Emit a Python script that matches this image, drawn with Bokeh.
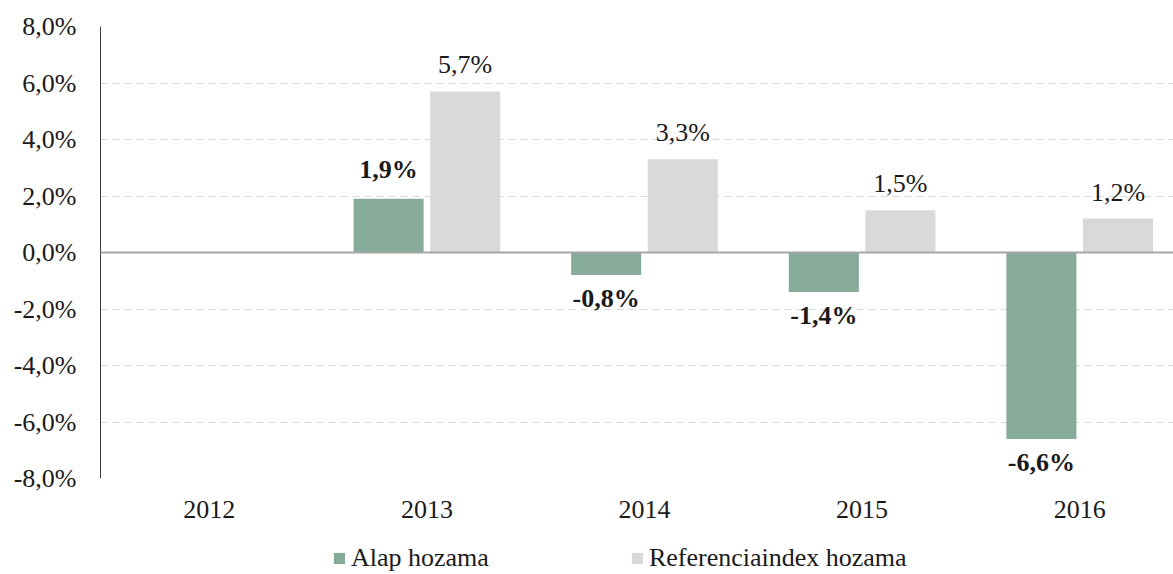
import math
from bokeh.plotting import figure
from bokeh.layouts import column
from bokeh.models import (ColumnDataSource, Range1d, FixedTicker, Span, Legend, LegendItem)
from bokeh.core.properties import value
from bokeh.embed import file_html
from bokeh.resources import INLINE

years = ["2012", "2013", "2014", "2015", "2016"]
alap = [float("nan"), 1.9, -0.8, -1.4, -6.6]
ref = [float("nan"), 5.7, 3.3, 1.5, 1.2]
y_ticks = [-8, -6, -4, -2, 0, 2, 4, 6, 8]
series_names = ["Alap hozama", "Referenciaindex hozama"]

GREEN = "#86AB99"
GRAY = "#D9D9D9"
FONT = "'Liberation Serif', 'Times New Roman', serif"
TXT = "#1a1a1a"
FS = "26px"

def fmt(v):
    return f"{v:.1f}%".replace(".", ",")

idx = list(range(len(years)))
off = 0.176
bw = 0.322

p = figure(width=1173, height=530, output_backend="svg", toolbar_location=None,
           x_range=Range1d(-0.5, -0.5 + 1073 / 217.6), y_range=Range1d(-8, 8),
           min_border_left=100, min_border_right=0, min_border_top=26, min_border_bottom=52)
p.outline_line_color = None
p.background_fill_color = "white"
p.border_fill_color = "white"

# grid
p.xgrid.grid_line_color = None
p.ygrid.ticker = FixedTicker(ticks=y_ticks)
p.ygrid.grid_line_color = "#D9D9D9"
p.ygrid.grid_line_dash = "7 5"
p.ygrid.grid_line_width = 1

# y axis
p.yaxis.ticker = FixedTicker(ticks=y_ticks)
p.yaxis.major_label_overrides = {t: fmt(t) for t in y_ticks}
p.yaxis.axis_line_color = "#404040"
p.yaxis.axis_line_width = 1
p.yaxis.major_tick_line_color = None
p.yaxis.major_tick_out = 0
p.yaxis.major_tick_in = 0
p.yaxis.minor_tick_line_color = None
p.yaxis.major_label_text_font = FONT
p.yaxis.major_label_text_font_size = FS
p.yaxis.major_label_text_color = TXT
p.yaxis.major_label_standoff = 24

# x axis
p.xaxis.ticker = FixedTicker(ticks=idx)
p.xaxis.major_label_overrides = {i: y for i, y in zip(idx, years)}
p.xaxis.axis_line_color = None
p.xaxis.major_tick_line_color = None
p.xaxis.major_tick_out = 0
p.xaxis.major_tick_in = 0
p.xaxis.minor_tick_line_color = None
p.xaxis.major_label_text_font = FONT
p.xaxis.major_label_text_font_size = FS
p.xaxis.major_label_text_color = TXT
p.xaxis.major_label_standoff = 22

# zero line
p.add_layout(Span(location=0, dimension="width", line_color="#A6A6A6", line_width=2))

xs_a = [i - off for i in idx]
xs_r = [i + off for i in idx]
data_a = dict(x=[x for x, v in zip(xs_a, alap) if not math.isnan(v)],
              top=[v for v in alap if not math.isnan(v)])
data_r = dict(x=[x for x, v in zip(xs_r, ref) if not math.isnan(v)],
              top=[v for v in ref if not math.isnan(v)])
p.vbar(x="x", top="top", bottom=0, width=bw, source=ColumnDataSource(data_a), fill_color=GREEN, line_color=None)
p.vbar(x="x", top="top", bottom=0, width=bw, source=ColumnDataSource(data_r), fill_color=GRAY, line_color=None)

# labels
def add_labels(xs, vals, bold, up_off):
    pos = [(x, v) for x, v in zip(xs, vals) if not math.isnan(v) and v >= 0]
    neg = [(x, v) for x, v in zip(xs, vals) if not math.isnan(v) and v < 0]
    style = "bold" if bold else "normal"
    if pos:
        s = ColumnDataSource(dict(x=[a for a, b in pos], y=[b for a, b in pos], t=[fmt(b) for a, b in pos]))
        p.text(x="x", y="y", text="t", source=s, text_align="center", text_baseline="bottom",
               y_offset=-up_off, text_font=value(FONT), text_font_size=FS, text_font_style=style,
               text_color=TXT)
    if neg:
        s = ColumnDataSource(dict(x=[a for a, b in neg], y=[b for a, b in neg], t=[fmt(b) for a, b in neg]))
        p.text(x="x", y="y", text="t", source=s, text_align="center", text_baseline="top",
               y_offset=9, text_font=value(FONT), text_font_size=FS, text_font_style=style,
               text_color=TXT)

add_labels(xs_a, alap, True, 15)
add_labels(xs_r, ref, False, 12)

# legend strip (its bars lie outside its view; only the legend shows)
lp = figure(width=1173, height=44, output_backend="svg", toolbar_location=None,
            x_range=Range1d(100, 101), y_range=Range1d(100, 101),
            x_axis_location=None, y_axis_location=None,
            min_border_left=0, min_border_right=0, min_border_top=0, min_border_bottom=0)
lp.outline_line_color = None
lp.grid.visible = False
la = lp.vbar(x="x", top="top", bottom=0, width=bw, source=ColumnDataSource(data_a), fill_color=GREEN, line_color=None)
lr = lp.vbar(x="x", top="top", bottom=0, width=bw, source=ColumnDataSource(data_r), fill_color=GRAY, line_color=None)
legend = Legend(items=[LegendItem(label=series_names[0], renderers=[la]),
                       LegendItem(label=series_names[1], renderers=[lr])],
                location=(232, 1), orientation="horizontal", padding=0, margin=0, spacing=141,
                glyph_width=14, glyph_height=14, label_standoff=5, label_text_font=FONT,
                label_text_font_size=FS, label_text_color=TXT, border_line_color=None,
                background_fill_alpha=0)
lp.add_layout(legend, "center")

open("out.html", "w").write(file_html(column(p, lp), INLINE))
